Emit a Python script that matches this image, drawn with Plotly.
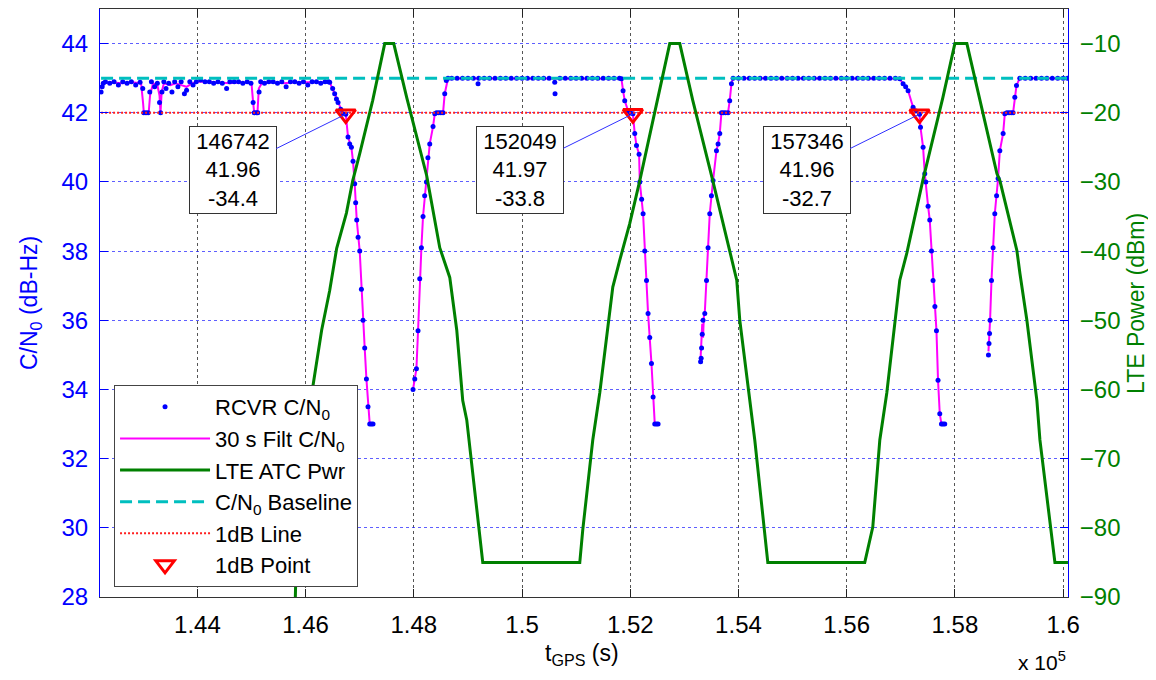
import plotly.graph_objects as go

# ---------------- data ----------------
x_tick_vals = [144000, 146000, 148000, 150000, 152000, 154000, 156000, 158000, 160000]
x_tick_text = ["1.44", "1.46", "1.48", "1.5", "1.52", "1.54", "1.56", "1.58", "1.6"]
cn0_ticks = [28, 30, 32, 34, 36, 38, 40, 42, 44]
pwr_ticks = [-90, -80, -70, -60, -50, -40, -30, -20, -10]

# raw receiver C/N0 (dB-Hz)
raw_early_t = [142220, 142240, 142260, 142300, 142380, 142460, 142540, 142620, 142700, 142780,
               142860, 142940, 142990, 143010, 143050, 143090, 143120, 143150, 143210, 143260,
               143300, 143320, 143345, 143380, 143420, 143470, 143530, 143580, 143640, 143700,
               143760, 143800, 143860, 143920, 143980, 144060, 144140, 144220, 144300, 144380,
               144460, 144540, 144600, 144680, 144760, 144840, 144920, 144990, 145030, 145050,
               145090, 145115, 145140, 145170, 145240, 145320, 145400, 145480, 145560, 145640,
               145720, 145800, 145880, 145960, 146040, 146120, 146200, 146280, 146360, 146420]
raw_early_c = [42.6, 42.75, 42.85, 42.9, 42.85, 42.9, 42.8, 42.9, 42.85, 42.9,
               42.8, 42.88, 42.7, 42.0, 42.0, 42.0, 42.6, 42.9, 42.75, 42.85,
               42.3, 42.0, 42.6, 42.9, 42.7, 42.85, 42.6, 42.9, 42.75, 42.9,
               42.55, 42.65, 42.9, 42.8, 42.9, 42.95, 42.9, 42.9, 42.85, 42.9,
               42.85, 42.7, 42.9, 42.9, 42.9, 42.85, 42.9, 42.85, 42.3, 42.0,
               42.0, 42.0, 42.6, 42.9, 42.85, 42.9, 42.9, 42.85, 42.9, 42.75,
               42.9, 42.9, 42.85, 42.9, 42.8, 42.9, 42.9, 42.85, 42.9, 42.9]

raw_dip1_t = [146445, 146500, 146537, 146570, 146599, 146650, 146691, 146742, 146784, 146815,
              146846, 146876, 146907, 146925, 146945, 146970, 147000, 147031, 147061, 147092,
              147124, 147153, 147185, 147215, 147246,
              147985, 148017, 148048, 148078, 148109, 148140, 148170, 148200, 148233, 148260,
              148294, 148355, 148387, 148420, 148460, 148500, 148540, 148571, 148600, 148632]
raw_dip1_c = [42.88, 42.7, 42.55, 42.4, 42.3, 42.1, 41.97, 41.96, 41.3, 41.1,
              41.0, 40.6, 39.95, 39.4, 38.9, 38.4, 38.0, 36.9, 36.0, 35.2,
              34.3, 33.5, 33.0, 33.0, 33.0,
              34.0, 34.3, 34.6, 35.7, 37.2, 38.1, 39.0, 39.6, 40.0, 40.7,
              41.1, 41.6, 41.97, 42.0, 42.0, 42.0, 42.0, 42.55, 42.93, 43.0]

raw_flat1_t = [148700, 148800, 148900, 149000, 149100, 149187, 149200, 149300, 149400, 149500,
               149600, 149700, 149800, 149900, 150000, 150100, 150200, 150300, 150400, 150500,
               150604, 150610, 150700, 150800, 150900, 151000, 151100, 151200, 151300, 151400,
               151500, 151600, 151700, 151800]
raw_flat1_c = [43.0, 43.0, 43.0, 43.0, 43.0, 42.84, 43.0, 43.0, 43.0, 43.0,
               43.0, 43.0, 43.0, 43.0, 43.0, 43.0, 43.0, 43.0, 43.0, 43.0,
               42.88, 42.55, 43.0, 43.0, 43.0, 43.0, 43.0, 43.0, 43.0, 43.0,
               43.0, 43.0, 43.0, 43.0]

raw_dip2_t = [151837, 151867, 151898, 151959, 152000, 152049, 152083, 152115, 152163, 152176,
              152210, 152237, 152268, 152300, 152329, 152360, 152392, 152422, 152453, 152485,
              152514,
              153300, 153310, 153318, 153330, 153345, 153377, 153409, 153438, 153469, 153500,
              153530, 153593, 153623, 153654, 153685, 153720, 153760, 153807, 153838, 153870,
              153900]
raw_dip2_c = [42.98, 42.64, 42.35, 42.06, 42.0, 41.97, 41.4, 41.05, 40.8, 40.0,
              39.5, 39.08, 38.0, 37.15, 36.2, 35.5, 34.75, 33.78, 33.0, 33.0,
              33.0,
              34.8, 34.9, 35.2, 35.6, 36.0, 36.2, 37.15, 38.1, 39.08, 39.6,
              40.04, 40.9, 41.1, 41.4, 42.0, 42.0, 42.0, 42.0, 42.35, 42.84,
              43.0]

raw_flat2_t = [154000, 154100, 154200, 154300, 154400, 154500, 154600, 154700, 154800, 154900,
               155000, 155100, 155200, 155300, 155400, 155500, 155600, 155700, 155800, 155900,
               156000, 156100, 156200, 156300, 156400, 156500, 156600, 156700, 156800, 156900]
raw_flat2_c = [43.0, 43.0, 43.0, 43.0, 43.0, 43.0, 43.0, 43.0, 43.0, 43.0,
               43.0, 43.0, 43.0, 43.0, 43.0, 43.0, 43.0, 43.0, 43.0, 43.0,
               43.0, 43.0, 43.0, 43.0, 43.0, 43.0, 43.0, 43.0, 43.0, 43.0]

raw_dip3_t = [156981, 157042, 157090, 157135, 157227, 157280, 157346, 157364, 157412, 157443,
              157462, 157504, 157535, 157567, 157596, 157630, 157659, 157688, 157720, 157751,
              157780, 157812,
              158620, 158630, 158640, 158650, 158676, 158706, 158737, 158770, 158798, 158830,
              158891, 158922, 158960, 159000, 159040, 159075, 159107, 159138, 159199]
raw_dip3_c = [42.98, 42.84, 42.75, 42.64, 42.16, 42.05, 41.96, 41.58, 41.0, 40.24,
              40.0, 39.3, 38.9, 38.0, 37.15, 36.4, 35.7, 34.27, 33.3, 33.0,
              33.0, 33.0,
              35.0, 35.33, 35.62, 36.0, 37.15, 38.1, 39.08, 39.6, 40.1, 40.9,
              41.4, 41.97, 42.0, 42.0, 42.0, 42.0, 42.45, 42.79, 43.0]

raw_flat3_t = [159300, 159400, 159500, 159600, 159700, 159800, 159900, 160000, 160080]
raw_flat3_c = [43.0, 43.0, 43.0, 43.0, 43.0, 43.0, 43.0, 43.0, 43.0]

# 30 s filtered C/N0 (None = break in the line)
filt_t = [142220, 142260, 142400, 142600, 142800, 142960, 142995, 143010, 143100, 143125,
          143180, 143260, 143300, 143318, 143340, 143380, 143500, 143600, 143700, 143800,
          143900, 144000, 144200, 144400, 144600, 144800, 145000, 145030, 145050, 145110,
          145135, 145200, 145400, 145600, 145800, 146000, 146200, 146420,
          146445, 146537, 146599, 146691, 146742, 146784, 146846, 146876, 146907, 146945,
          147000, 147031, 147061, 147092, 147124, 147153, 147185, 147246, None,
          147985, 148017, 148048, 148078, 148109, 148140, 148170, 148233, 148294, 148355,
          148387, 148540, 148571, 148632, 151800,
          151837, 151867, 151898, 151959, 152049, 152083, 152115, 152163, 152176, 152237,
          152268, 152300, 152329, 152392, 152422, 152453, 152514, None,
          153300, 153318, 153330, 153345, 153360, 153377, 153409, 153438, 153469, 153530,
          153593, 153623, 153654, 153685, 153807, 153838, 153870, 153900, 156950,
          156981, 157042, 157135, 157227, 157346, 157364, 157412, 157443, 157462, 157504,
          157535, 157567, 157596, 157659, 157688, 157720, 157751, 157812, None,
          158620, 158640, 158650, 158676, 158706, 158737, 158798, 158830, 158891, 158922,
          159075, 159107, 159138, 159199, 160080]
filt_c = [42.7, 42.85, 42.88, 42.85, 42.88, 42.85, 42.3, 42.0, 42.0, 42.5,
          42.85, 42.8, 42.5, 42.0, 42.6, 42.85, 42.8, 42.85, 42.8, 42.75,
          42.85, 42.9, 42.9, 42.88, 42.85, 42.88, 42.85, 42.3, 42.0, 42.0,
          42.7, 42.88, 42.88, 42.85, 42.88, 42.88, 42.88, 42.9,
          42.88, 42.55, 42.3, 41.97, 41.96, 41.3, 41.0, 40.6, 39.95, 38.9,
          38.0, 36.9, 36.0, 35.2, 34.3, 33.5, 33.0, 33.0, None,
          34.0, 34.3, 34.6, 35.7, 37.2, 38.1, 39.0, 40.0, 41.1, 41.6,
          41.97, 42.0, 42.55, 43.0, 43.0,
          42.98, 42.64, 42.35, 42.06, 41.97, 41.4, 41.05, 40.8, 40.0, 39.08,
          38.0, 37.15, 36.2, 34.75, 33.78, 33.0, 33.0, None,
          34.9, 35.6, 35.9, 35.5, 36.1, 36.2, 37.15, 38.1, 39.08, 40.04,
          40.9, 41.1, 41.4, 42.0, 42.0, 42.35, 42.84, 43.0, 43.0,
          42.98, 42.84, 42.64, 42.16, 41.96, 41.58, 41.0, 40.24, 40.0, 39.3,
          38.9, 38.0, 37.15, 35.7, 34.27, 33.3, 33.0, 33.0, None,
          35.1, 35.6, 36.0, 37.15, 38.1, 39.08, 40.1, 40.9, 41.4, 41.97,
          42.0, 42.45, 42.79, 43.0, 43.0]

# LTE ATC power (dBm)
lte_t = [145780, 145835, 146039, 146131, 146297, 146445, 146574, 146754, 146871, 147000,
         147240, 147462, 147629, 147869, 148238, 148479, 148664, 148793, 148904, 148978,
         149274, 151067,
         151122, 151307, 151436, 151677, 151806, 151991, 152176, 152416, 152730, 152915,
         153155, 153525, 153839, 153968, 154024, 154209, 154301, 154542, 156334,
         156482, 156612, 156741, 156981, 157111, 157406, 157777, 157999, 158221,
         158498, 158776, 158831, 159145, 159201, 159330, 159515, 159571, 159848, 160089]
lte_p = [-100.0, -81.8, -67.3, -59.7, -51.4, -45.7, -39.6, -34.5, -29.8, -25.9,
         -18.2, -10.0, -10.0, -17.8, -29.1, -39.5, -43.8, -51.4, -61.6, -64.4,
         -85.0, -85.0,
         -80.3, -67.3, -60.5, -45.2, -41.3, -36.0, -29.8, -21.1, -10.0, -10.0,
         -18.2, -29.8, -39.9, -44.2, -50.0, -61.6, -67.3, -85.0, -85.0,
         -79.9, -67.3, -60.5, -44.2, -40.3, -29.8, -17.8, -10.0, -10.0,
         -19.2, -28.8, -29.8, -39.9, -43.2, -50.0, -61.6, -67.3, -85.0, -85.0]

baseline_cn0 = 43.0
one_db_cn0 = 42.0

# 1 dB points: time, C/N0, LTE power
onedb_t = [146742, 152049, 157346]
onedb_cn0 = [41.96, 41.97, 41.96]
onedb_pwr = [-34.4, -33.8, -32.7]

# ---------------- figure ----------------
raw_t = raw_early_t + raw_dip1_t + raw_flat1_t + raw_dip2_t + raw_flat2_t + raw_dip3_t + raw_flat3_t
raw_c = raw_early_c + raw_dip1_c + raw_flat1_c + raw_dip2_c + raw_flat2_c + raw_dip3_c + raw_flat3_c
t_first, t_last = min(raw_t), max(raw_t)

FONT = "Liberation Sans, Arial, sans-serif"
BLUE = "#0000FF"
GREEN = "#008000"

fig = go.Figure()

fig.add_trace(go.Scatter(x=filt_t, y=filt_c, mode="lines", name="30 s Filt C/N<sub>0</sub>",
                         line=dict(color="#FF00FF", width=2), legendrank=2, connectgaps=False))
fig.add_trace(go.Scatter(x=raw_t, y=raw_c, mode="markers", name="RCVR C/N<sub>0</sub>",
                         marker=dict(color=BLUE, size=5, symbol="circle"), legendrank=1))
fig.add_trace(go.Scatter(x=[t_first, t_last], y=[baseline_cn0, baseline_cn0], mode="lines",
                         name="C/N<sub>0</sub> Baseline",
                         line=dict(color="#00BFBF", width=3, dash="12px,6px"), legendrank=4))
fig.add_trace(go.Scatter(x=[t_first, t_last], y=[one_db_cn0, one_db_cn0], mode="lines",
                         name="1dB Line",
                         line=dict(color="#FF2020", width=2, dash="2px,2px"), legendrank=5))
fig.add_trace(go.Scatter(x=onedb_t, y=onedb_cn0, mode="markers", name="1dB Point",
                         marker=dict(symbol="triangle-down-open", size=17, color="#FF0000",
                                     line=dict(width=3, color="#FF0000")), legendrank=6))
fig.add_trace(go.Scatter(x=lte_t, y=lte_p, mode="lines", name="LTE ATC Pwr", yaxis="y2",
                         line=dict(color=GREEN, width=3), legendrank=3))

for t, c, p in zip(onedb_t, onedb_cn0, onedb_pwr):
    fig.add_annotation(x=t, y=c, xref="x", yref="y",
                       text=f"{t}<br>{c:.2f}<br>{p:.1f}",
                       showarrow=True, arrowhead=0, arrowwidth=1, arrowcolor="#3030FF",
                       ax=-113, ay=56, standoff=0,
                       font=dict(family=FONT, size=22, color="black"),
                       bgcolor="white", bordercolor="#333", borderwidth=1, borderpad=2,
                       width=82, height=82, align="center")

# axis titles and exponent label
fig.add_annotation(x=-0.0723, y=0.5, xref="paper", yref="paper", xanchor="center", yanchor="middle",
                   text="C/N<sub>0</sub> (dB-Hz)", textangle=-90, showarrow=False,
                   font=dict(family=FONT, size=23, color=BLUE))
fig.add_annotation(x=1.0702, y=0.5, xref="paper", yref="paper", xanchor="center", yanchor="middle",
                   text="LTE Power (dBm)", textangle=-90, showarrow=False,
                   font=dict(family=FONT, size=23, color=GREEN))
fig.add_annotation(x=0.498, y=-0.0986, xref="paper", yref="paper", xanchor="center", yanchor="middle",
                   text="t<sub>GPS</sub> (s)", showarrow=False,
                   font=dict(family=FONT, size=23, color="black"))
fig.add_annotation(x=1.0, y=-0.108, xref="paper", yref="paper", xanchor="right", yanchor="middle",
                   text="x 10<sup>5</sup>", showarrow=False,
                   font=dict(family=FONT, size=21, color="black"))

fig.update_layout(
    width=1140, height=670,
    margin=dict(l=92, r=80, t=1, b=81, autoexpand=False),
    paper_bgcolor="white", plot_bgcolor="white",
    font=dict(family=FONT, size=21, color="black"),
    showlegend=True,
    legend=dict(x=0.0145, y=0.3605, xanchor="left", yanchor="top",
                bgcolor="white", bordercolor="#444", borderwidth=1,
                font=dict(family=FONT, size=22, color="black"), itemwidth=90,
                tracegroupgap=0),
    xaxis=dict(range=[142200, 160090], tickvals=x_tick_vals, ticktext=x_tick_text,
               showline=True, linecolor="#333", linewidth=1, mirror="ticks",
               ticks="inside", ticklen=8, tickcolor="#222",
               showgrid=True, gridcolor="#555", griddash="dot", gridwidth=1,
               zeroline=False, ticklabelstandoff=6,
               tickfont=dict(family=FONT, size=24, color="black")),
    yaxis=dict(range=[28, 45], tickvals=cn0_ticks,
               showline=True, linecolor=BLUE, linewidth=1,
               ticks="inside", ticklen=8, tickcolor=BLUE,
               showgrid=True, gridcolor="rgba(40,40,255,0.75)", griddash="dot", gridwidth=1,
               zeroline=False, ticklabelstandoff=6,
               tickfont=dict(family=FONT, size=24, color=BLUE)),
    yaxis2=dict(range=[-90, -5], tickvals=pwr_ticks, overlaying="y", side="right",
                showline=True, linecolor=BLUE, linewidth=1,
                ticks="inside", ticklen=8, tickcolor=BLUE,
                showgrid=False, zeroline=False, ticklabelstandoff=6,
                tickfont=dict(family=FONT, size=24, color=GREEN)),
)

fig.write_html("out.html")
